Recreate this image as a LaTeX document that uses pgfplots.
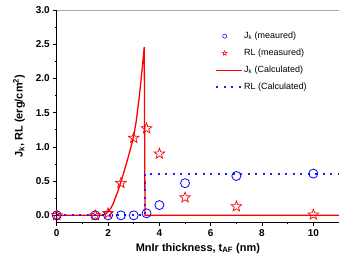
\documentclass[border=0pt]{standalone}
\usepackage{pgfplots}
\pgfplotsset{compat=1.18}
\usepackage{fontspec}
\setmainfont{Liberation Sans}
\pgfdeclareplotmark{ostar}{%
  \pgfpathmoveto{\pgfqpointpolar{90}{\pgfplotmarksize}}%
  \pgfpathlineto{\pgfqpointpolar{126}{0.42\pgfplotmarksize}}%
  \pgfpathlineto{\pgfqpointpolar{162}{\pgfplotmarksize}}%
  \pgfpathlineto{\pgfqpointpolar{198}{0.42\pgfplotmarksize}}%
  \pgfpathlineto{\pgfqpointpolar{234}{\pgfplotmarksize}}%
  \pgfpathlineto{\pgfqpointpolar{270}{0.42\pgfplotmarksize}}%
  \pgfpathlineto{\pgfqpointpolar{306}{\pgfplotmarksize}}%
  \pgfpathlineto{\pgfqpointpolar{342}{0.42\pgfplotmarksize}}%
  \pgfpathlineto{\pgfqpointpolar{18}{\pgfplotmarksize}}%
  \pgfpathlineto{\pgfqpointpolar{54}{0.42\pgfplotmarksize}}%
  \pgfpathclose
  \pgfusepathqstroke}
\pgfplotsset{longline/.style={legend image code/.code={\draw[##1] (0cm,0cm) -- (0.9cm,0cm);}}}
\definecolor{dotblue}{RGB}{30,30,230}
\begin{document}
\begin{tikzpicture}
\begin{axis}[
  name=ax,
  scale only axis,
  width=282bp, height=212bp,
  xmin=0, xmax=11, ymin=-0.1, ymax=3.0,
  axis lines=left,
  axis line style={-, black, line width=0.8pt},
  xtick={0,2,4,6,8,10},
  ytick={0,0.5,1,1.5,2,2.5,3},
  minor x tick num=1,
  minor y tick num=1,
  tick align=outside,
  tick style={black, line width=0.7pt},
  major tick length=3.5bp,
  minor tick length=2bp,
  /pgf/number format/assume math mode=true,
  /pgf/number format/fixed,
  /pgf/number format/fixed zerofill,
  /pgf/number format/precision=1,
  xticklabel style={/pgf/number format/precision=0},
  ticklabel style={font=\bfseries\fontsize{10}{11}\selectfont},
  xlabel={MnIr thickness, t\textsubscript{AF} (nm)},
  ylabel={J\textsubscript{k}, RL (erg/cm\textsuperscript{2})},
  label style={font=\bfseries\fontsize{11}{12}\selectfont},
  xlabel style={yshift=0bp},
  ylabel style={yshift=4bp},
  legend style={draw=none, fill=none, font=\fontsize{9}{10}\selectfont,
    at={(0.55,0.915)}, anchor=north west, row sep=5bp,
    /tikz/every even column/.append style={column sep=0pt},
    nodes={inner xsep=1.5pt}},
  legend cell align=left,
]
\addplot[only marks, mark=o, mark size=4.5bp, blue, line width=0.8pt,
  legend image post style={mark size=2bp, line width=0.5pt}] coordinates {
 (0,0) (1.5,0) (2,0) (2.5,0) (3,0) (3.5,0.03) (4,0.15) (5,0.47) (7,0.575) (10,0.61)};
\addlegendentry{J\textsubscript{k} (meaured)}
\addplot[only marks, red, line width=0.7pt, mark=ostar, mark size=5.5bp,
  legend image post style={mark size=2.5bp, line width=0.5pt}] coordinates {
 (0,0) (1.5,0) (2,0.03) (2.5,0.47) (3,1.13) (3.5,1.27) (4,0.9) (5,0.26) (7,0.13) (10,0.01)};
\addlegendentry{RL (measured)}
\addplot[red, line width=1.3pt, no marks, longline] coordinates {
 (0,0) (1.8,0) (1.9,0.02) (2.0,0.05) (2.1,0.1) (2.2,0.17) (2.3,0.27) (2.4,0.37)
 (2.5,0.49) (2.6,0.61) (2.7,0.74) (2.8,0.87) (2.9,1.01) (3.0,1.16) (3.1,1.38)
 (3.2,1.68) (3.3,2.03) (3.41,2.46) (3.44,0) (11,0)};
\addlegendentry{J\textsubscript{k} (Calculated)}
\addplot[dotblue, line width=2bp, dash pattern=on 2bp off 5.5bp, no marks, longline] coordinates {
 (0,0) (3.45,0) (3.45,0.61) (11,0.61)};
\addlegendentry{RL (Calculated)}
\draw[gray!70, line width=0.8pt] (rel axis cs:0,1) -- (rel axis cs:1,1) -- (rel axis cs:1,0);
\end{axis}
\pgfresetboundingbox
\path ([shift={(-56.7bp,-40bp)}]ax.south west) rectangle ([shift={(6bp,10bp)}]ax.north east);
\end{tikzpicture}
\end{document}
